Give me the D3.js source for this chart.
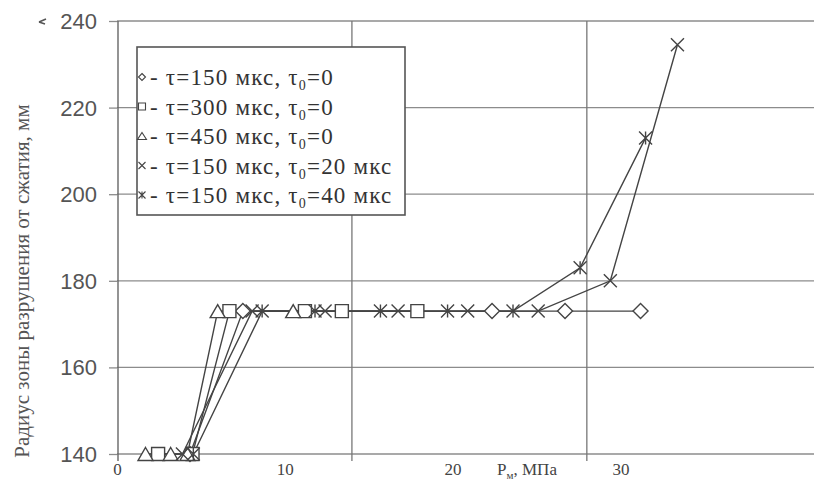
<!DOCTYPE html>
<html>
<head>
<meta charset="utf-8">
<script src="https://cdn.jsdelivr.net/npm/d3@7"></script>
<style>
  body { margin: 0; background: #fff; }
  svg { display: block; }
</style>
</head>
<body>
<svg id="chart"></svg>
<script>
var width = 814, height = 499;

// data, x in МПа, y in мм
var triangle = [[1.7,140],[3.2,140],[4.2,140],[6.0,173],[10.5,173]];
var square   = [[2.45,140],[4.5,140],[6.7,173],[11.2,173],[13.4,173],[17.9,173]];
var diamond  = [[4.35,140],[7.5,173],[22.35,173],[26.7,173],[31.2,173]];
var cross    = [[3.9,140],[8.05,173],[12.4,173],[16.75,173],[20.9,173],[25.1,173],[29.4,180],[33.4,234.5]];
var star     = [[4.55,140],[8.65,173],[11.8,173],[15.7,173],[19.7,173],[23.6,173],[27.6,183],[31.5,213]];

var yTicks = [140, 160, 180, 200, 220, 240];
var xTicks = [0, 10, 20, 30];
var xGrid = [14, 28];
var legendLabels = [
  ["τ=150 мкс, τ", "0", "=0"],
  ["τ=300 мкс, τ", "0", "=0"],
  ["τ=450 мкс, τ", "0", "=0"],
  ["τ=150 мкс, τ", "0", "=20 мкс"],
  ["τ=150 мкс, τ", "0", "=40 мкс"]
];

var svg = d3.select('#chart').attr('width', width).attr('height', height);

var x = d3.scaleLinear().domain([0, 42]).range([117, 117 + 42 * 16.78]);
var y = d3.scaleLinear().domain([140, 240]).range([454, 21]);

var gridColor = '#8c8c8c';

// y ticks + horizontal grid
svg.append('g')
    .attr('transform', 'translate(' + x(0) + ',0)')
    .call(d3.axisLeft(y).tickValues(yTicks).tickSize(8).tickFormat(''))
    .call(function(g){ g.select('.domain').remove(); })
    .selectAll('line').attr('stroke', gridColor).attr('stroke-width', 1.3);
svg.append('g')
    .selectAll('line').data(yTicks).enter().append('line')
    .attr('x1', x(0)).attr('x2', width)
    .attr('y1', function(d){ return y(d); }).attr('y2', function(d){ return y(d); })
    .attr('stroke', gridColor).attr('stroke-width', 1.3);

// vertical grid
svg.append('g')
    .selectAll('line').data(xGrid).enter().append('line')
    .attr('x1', function(d){ return x(d); }).attr('x2', function(d){ return x(d); })
    .attr('y1', y(240)).attr('y2', y(140) + 7)
    .attr('stroke', '#777').attr('stroke-width', 1.3);

// y axis line
svg.append('line')
    .attr('x1', x(0) + 1).attr('x2', x(0) + 1)
    .attr('y1', y(240)).attr('y2', y(140) + 7)
    .attr('stroke', '#666').attr('stroke-width', 1.4);

// y tick labels
svg.append('g').selectAll('text').data(yTicks).enter().append('text')
    .attr('x', 97).attr('y', function(d){ return y(d) + 8; })
    .attr('text-anchor', 'end')
    .style('font-family', 'Liberation Sans, Arial, sans-serif')
    .style('font-size', '22px').style('fill', '#555')
    .text(function(d){ return d; });

// little mark by 240
svg.append('path').attr('d', 'M39,22 L46,19 M39,22 L45,24').attr('stroke', '#555').attr('stroke-width', 1.6).attr('fill', 'none');

// x tick labels
var xAxis = svg.append('g')
    .attr('transform', 'translate(0,' + 459 + ')')
    .call(d3.axisBottom(x).tickValues(xTicks).tickSize(0).tickPadding(0));
xAxis.select('.domain').remove();
xAxis.selectAll('text')
    .attr('dy', 0).attr('y', 16)
    .style('font-family', 'Liberation Serif, Times New Roman, serif')
    .style('font-size', '17px').style('fill', '#444');

// x axis title
var xt = svg.append('text')
    .attr('x', 527).attr('y', 475)
    .attr('text-anchor', 'middle')
    .style('font-family', 'Liberation Serif, Times New Roman, serif')
    .style('font-size', '17px').style('fill', '#444');
xt.append('tspan').text('P');
xt.append('tspan').attr('dy', 4).style('font-size', '11px').text('м');
xt.append('tspan').attr('dy', -4).text(', МПа');

// y axis title
svg.append('text')
    .attr('transform', 'translate(29,281) rotate(-90)')
    .attr('text-anchor', 'middle')
    .style('font-family', 'Liberation Serif, Times New Roman, serif')
    .style('font-size', '21px').style('fill', '#555')
    .text('Радиус зоны разрушения от сжатия, мм');

// marker shapes
function markerPath(type, s) {
  var h = s / 2;
  if (type === 'triangle') return 'M0,' + (-h) + 'L' + (h + 1) + ',' + h + 'L' + (-h - 1) + ',' + h + 'Z';
  if (type === 'square') return 'M' + (-h) + ',' + (-h) + 'H' + h + 'V' + h + 'H' + (-h) + 'Z';
  if (type === 'diamond') return 'M0,' + (-h) + 'L' + h + ',0L0,' + h + 'L' + (-h) + ',0Z';
  if (type === 'cross') return 'M' + (-h) + ',' + (-h) + 'L' + h + ',' + h + 'M' + h + ',' + (-h) + 'L' + (-h) + ',' + h;
  return 'M' + (-h) + ',' + (-h) + 'L' + h + ',' + h + 'M' + h + ',' + (-h) + 'L' + (-h) + ',' + h + 'M0,' + (-h) + 'V' + h;
}

var series = [
  { data: diamond, type: 'diamond' },
  { data: square, type: 'square' },
  { data: triangle, type: 'triangle' },
  { data: cross, type: 'cross' },
  { data: star, type: 'star' }
];

var line = d3.line().x(function(d){ return x(d[0]); }).y(function(d){ return y(d[1]); });

svg.append('g').selectAll('path').data(series).enter().append('path')
    .attr('d', function(d){ return line(d.data); })
    .attr('fill', 'none').attr('stroke', '#444').attr('stroke-width', 1.4);

series.forEach(function(s){
  svg.append('g').selectAll('path').data(s.data).enter().append('path')
      .attr('transform', function(d){ return 'translate(' + x(d[0]) + ',' + y(d[1]) + ')'; })
      .attr('d', markerPath(s.type, s.type === 'diamond' ? 15 : 13))
      .attr('fill', (s.type === 'cross' || s.type === 'star') ? 'none' : '#fff')
      .attr('stroke', '#444').attr('stroke-width', 1.4);
});

// legend
var lg = svg.append('g');
lg.append('rect')
    .attr('x', 137).attr('y', 47).attr('width', 268).attr('height', 168)
    .attr('fill', '#fff').attr('stroke', '#555').attr('stroke-width', 1.6);
var rowY = d3.scaleLinear().domain([0, 4]).range([77, 195]);
legendLabels.forEach(function(lab, i){
  lg.append('path')
      .attr('transform', 'translate(142,' + rowY(i) + ')')
      .attr('d', markerPath(series[i].type, 7))
      .attr('fill', '#fff').attr('stroke', '#444').attr('stroke-width', 1.1);
  var t = lg.append('text')
      .attr('x', 150).attr('y', rowY(i) + 8)
      .style('font-family', 'Liberation Serif, Times New Roman, serif')
      .style('font-size', '23px').style('fill', '#333')
      .style('letter-spacing', '1.2px');
  t.append('tspan').text('- ' + lab[0]);
  t.append('tspan').attr('dy', 5).style('font-size', '14px').text(lab[1]);
  t.append('tspan').attr('dy', -5).text(lab[2]);
});
</script>
</body>
</html>
